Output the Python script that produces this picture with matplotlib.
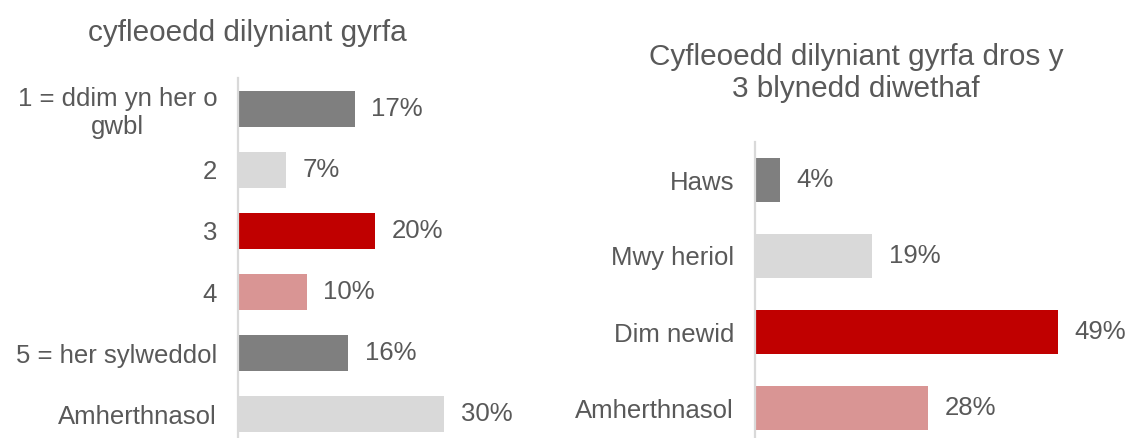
"""Two horizontal bar panels: career progression opportunities."""
from matplotlib import pyplot

pyplot.rcParams["font.family"] = ["Liberation Sans", "DejaVu Sans"]

# data
left_title = "cyfleoedd dilyniant gyrfa"
left_labels = ["1 = ddim yn her o\ngwbl", "2", "3", "4", "5 = her sylweddol", "Amherthnasol"]
left_values = [17, 7, 20, 10, 16, 30]

right_title = "Cyfleoedd dilyniant gyrfa dros y\n3 blynedd diwethaf"
right_labels = ["Haws", "Mwy heriol", "Dim newid", "Amherthnasol"]
right_values = [4, 19, 49, 28]

DARK = "#7f7f7f"
LIGHT = "#d9d9d9"
RED = "#c00000"
PINK = "#d99594"
TEXT = "#595959"

left_colors = [DARK, LIGHT, RED, PINK, DARK, LIGHT]
right_colors = [DARK, LIGHT, RED, PINK]

W, H = 1128, 438
fig = pyplot.figure(figsize=(W / 100, H / 100), dpi=100)


def px_axes(x0, top, x1, bottom):
    """Add axes given pixel box (y measured from the top)."""
    return fig.add_axes([x0 / W, (H - bottom) / H, (x1 - x0) / W, (bottom - top) / H])


def draw(ax, labels, values, colors, xmax):
    pos = list(range(len(values)))
    ax.barh(pos, values, height=0.59, color=colors)
    ax.set_ylim(len(values) - 0.5, -0.5)
    ax.set_xlim(0, xmax)
    for p, v in zip(pos, values):
        ax.annotate("{}%".format(v), (v, p), xytext=(12, 0), textcoords="offset points",
                    va="center", ha="left", fontsize=18.5, color=TEXT)
    ax.set_yticks(pos)
    ax.set_yticklabels(labels, fontsize=18.5, color=TEXT)
    for t in ax.get_yticklabels():
        t.set_multialignment("center")
    ax.tick_params(axis="y", length=0, pad=15)
    ax.set_xticks([])
    for s in ["top", "right", "bottom"]:
        ax.spines[s].set_visible(False)
    ax.spines["left"].set_color(LIGHT)
    ax.spines["left"].set_linewidth(1.6)


ax1 = px_axes(238, 78, 238 + 40 * 6.87, 445)
draw(ax1, left_labels, left_values, left_colors, 40)

ax2 = px_axes(755, 142, 755 + 60 * 6.18, 446)
draw(ax2, right_labels, right_values, right_colors, 60)

fig.text(247 / W, 1 - 33 / H, left_title, ha="center", va="center", fontsize=21.4, color=TEXT)
fig.text(856 / W, 1 - 73 / H, right_title, ha="center", va="center", fontsize=21.4,
         color=TEXT, linespacing=1.15)

fig.savefig("out.png", dpi=100)
